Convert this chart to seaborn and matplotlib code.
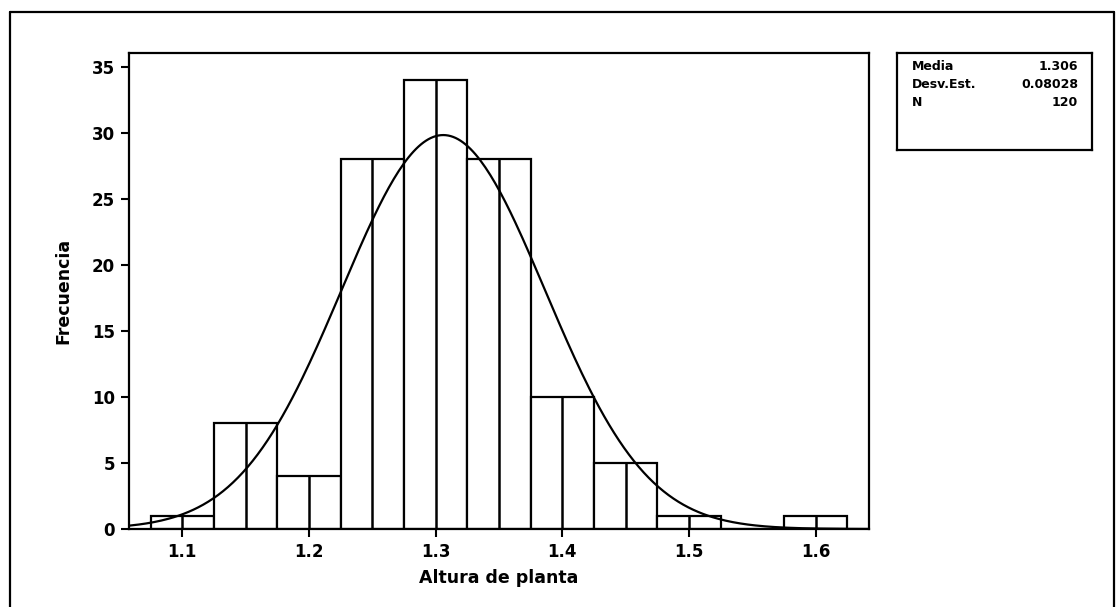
import numpy as np
import pandas as pd
import matplotlib
matplotlib.use("Agg")
import matplotlib.pyplot as plt
import seaborn as sns
from matplotlib.lines import Line2D

# ---- data ----
bin_centers = [1.10, 1.15, 1.20, 1.25, 1.30, 1.35, 1.40, 1.45, 1.50, 1.55, 1.60]
counts = [1, 8, 4, 28, 34, 28, 10, 5, 1, 0, 1]
bin_width = 0.05
media = 1.306
desv_est = 0.08028
n_total = 120
x_ticks = [1.1, 1.2, 1.3, 1.4, 1.5, 1.6]
y_ticks = [0, 5, 10, 15, 20, 25, 30, 35]

sns.set_theme(style="white")
plt.rcParams['font.family'] = ['DejaVu Sans']
plt.rcParams['text.color'] = 'black'
plt.rcParams['axes.labelcolor'] = 'black'
plt.rcParams['xtick.color'] = 'black'
plt.rcParams['ytick.color'] = 'black'

W, H = 1116, 607
fig = plt.figure(figsize=(W / 100, H / 100), dpi=100)
fig.patch.set_facecolor("white")
ax = fig.add_axes([129 / W, (H - 529) / H, 740 / W, 476.3 / H])

df = pd.DataFrame({"x": bin_centers, "n": counts})
sns.histplot(data=df, x="x", weights="n",
             binwidth=bin_width,
             binrange=(bin_centers[0] - bin_width / 2, bin_centers[-1] + bin_width / 2),
             ax=ax, stat="count",
             color="white", edgecolor="black", linewidth=1.6, alpha=1.0)

# inner center lines of each bar
ax.vlines(df["x"], 0, df["n"], colors="black", linewidth=1.8)

# fitted normal curve from displayed statistics
xs = np.linspace(1.058, 1.642, 300)
ys = n_total * bin_width / (desv_est * np.sqrt(2 * np.pi)) * np.exp(-0.5 * ((xs - media) / desv_est) ** 2)
sns.lineplot(x=xs, y=ys, ax=ax, color="black", linewidth=1.6)

ax.set_xlim(1.058, 1.642)
ax.set_ylim(0, 36.05)
ax.set_xticks(x_ticks)
ax.set_xticklabels([f"{v:.1f}" for v in x_ticks])
ax.set_yticks(y_ticks)
ax.set_yticklabels([str(v) for v in y_ticks])
ax.tick_params(axis="both", direction="out", length=6, width=1.5, color="black",
               labelcolor="black", labelsize=12, pad=4, bottom=True, left=True)
for lab in ax.get_xticklabels() + ax.get_yticklabels():
    lab.set_fontweight("bold")
for s in ax.spines.values():
    s.set_color("black")
    s.set_linewidth(1.6)
ax.set_xlabel("Altura de planta", fontsize=12.5, fontweight="heavy", labelpad=6, color="black")
ax.set_ylabel("Frecuencia", fontsize=12.5, fontweight="heavy", labelpad=14, color="black")

# stats box
bx = fig.add_axes([897 / W, (H - 150) / H, 195 / W, 97 / H])
bx.set_xticks([]); bx.set_yticks([])
for s in bx.spines.values():
    s.set_color("black"); s.set_linewidth(1.6)
labels = ["Media", "Desv.Est.", "N"]
values = ["1.306", "0.08028", "120"]
for i, (lab, val) in enumerate(zip(labels, values)):
    yy = 1 - (13 + 18 * i) / 97
    bx.text(15 / 195, yy, lab, transform=bx.transAxes, fontsize=9, fontweight="bold",
            va="center", ha="left", color="black")
    bx.text(181 / 195, yy, val, transform=bx.transAxes, fontsize=9, fontweight="bold",
            va="center", ha="right", color="black")

# outer frame
fx0, fx1, fy1 = 10 / W, 1114 / W, 1 - 12 / H
for xs_, ys_ in [([fx0, fx0], [0, fy1]), ([fx0, fx1], [fy1, fy1]), ([fx1, fx1], [0, fy1])]:
    fig.add_artist(Line2D(xs_, ys_, transform=fig.transFigure, color="black", linewidth=1.6))

fig.savefig("out.png", dpi=100, facecolor="white")
